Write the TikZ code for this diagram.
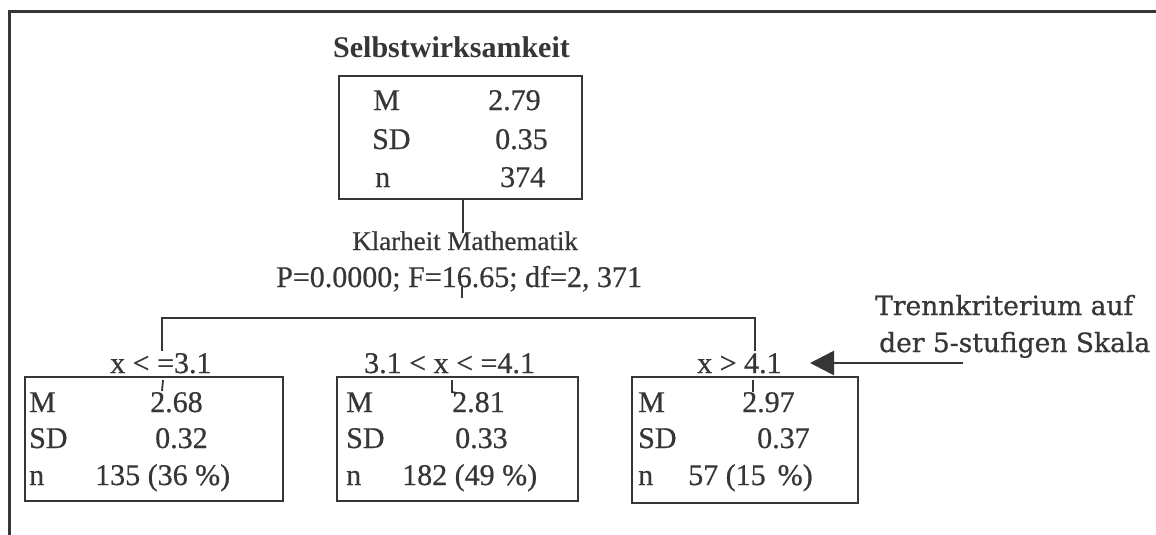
\documentclass[tikz,border=0pt]{standalone}
\usepackage{fontspec}
\setmainfont{Liberation Serif}
\newfontfamily\heavy[FakeBold=0.6]{Liberation Serif}
\newfontfamily\notefont[FakeBold=0.8]{DejaVu Serif}
\usetikzlibrary{arrows.meta}
\definecolor{ink}{HTML}{363636}
\begin{document}
\begin{tikzpicture}[x=1pt,y=-1pt,
  line/.style={draw=ink,line width=2.6pt},
  thin line/.style={draw=ink,line width=1.8pt},
  box/.style={draw=ink,line width=2.6pt},
  txt/.style={text=ink,inner sep=0pt,anchor=base west,font=\heavy\fontsize{30}{32}\selectfont},
  small/.style={text=ink,inner sep=0pt,anchor=base west,font=\heavy\fontsize{27}{29}\selectfont},
  note/.style={text=ink,inner sep=0pt,anchor=base west,font=\notefont\fontsize{26.5}{29}\selectfont}]
\useasboundingbox (0,0) rectangle (1156,535);
% frame
\draw[line,line width=3pt] (9,535) -- (9,11.5) -- (1156,11.5);
% root
\node[txt,font=\bfseries\fontsize{30}{32}\selectfont] (title) at (333,58) {Selbstwirksamkeit};
\draw[box] (339,76) rectangle (582,199);
\node[inner sep=0pt,minimum width=243pt,minimum height=123pt] (root) at (460.5,137.5) {};
\node[txt] (rM) at (373,110) {M};
\node[txt] (rMv) at (488,110) {2.79};
\node[txt] (rSD) at (372,149) {SD};
\node[txt] (rSDv) at (495,149) {0.35};
\node[txt] (rn) at (375,187) {n};
\node[txt] (rnv) at (500,187) {374};
% split labels
\node[small] (var) at (352,250) {Klarheit Mathematik};
\node[txt] (stat) at (276,287) {P=0.0000; F=16.65; df=2, 371};
\coordinate (c1) at (463,233);
\draw[line] (root.south -| c1) -- (c1);
\coordinate (t1) at (462,287);
\coordinate (t2) at (462,298);
\draw[thin line] (t1) -- (t2);
% bracket
\coordinate (bl) at (162,351);
\coordinate (br) at (755,351);
\coordinate (bm) at (458,318);
\draw[line] (bl) |- (bm) -| (br);
% children boxes
\draw[box] (25,377) rectangle (283,501);
\draw[box] (337,377) rectangle (578,501);
\draw[box] (632,377) rectangle (858,503);
\node[inner sep=0pt,minimum width=258pt,minimum height=124pt] (cL) at (154,439) {};
\node[inner sep=0pt,minimum width=241pt,minimum height=124pt] (cM) at (457.5,439) {};
\node[inner sep=0pt,minimum width=226pt,minimum height=126pt] (cR) at (745,440) {};
\node[txt] (lL) at (110,373) {x < =3.1};
\node[txt] (lM) at (364,373) {3.1 < x < =4.1};
\node[txt] (lR) at (697,373) {x > 4.1};
% left
\node[txt] (LM) at (29,412) {M};
\node[txt] (LMv) at (150,412) {2.68};
\node[txt] (LSD) at (29,448) {SD};
\node[txt] (LSDv) at (155,448) {0.32};
\node[txt] (Ln) at (29,485) {n};
\node[txt] (Lnv) at (95,485) {135 (36 \%)};
% middle
\node[txt] (MM) at (346,412) {M};
\node[txt] (MMv) at (452,412) {2.81};
\node[txt] (MSD) at (346,448) {SD};
\node[txt] (MSDv) at (455,448) {0.33};
\node[txt] (Mn) at (346,485) {n};
\node[txt] (Mnv) at (402,485) {182 (49 \%)};
% right
\node[txt] (RM) at (638,412) {M};
\node[txt] (RMv) at (742,412) {2.97};
\node[txt] (RSD) at (638,448) {SD};
\node[txt] (RSDv) at (757,448) {0.37};
\node[txt] (Rn) at (638,485) {n};
\node[txt] (Rnv) at (688,485) {57 (15\hspace{12pt}\%)};
% ticks
\draw[thin line] (163,380) -- (162,391);
\draw[thin line] (452,380) -- (452,392) -- (457,393);
\draw[thin line] (753,380) -- (753,392);
% annotation
\node[note] (n1) at (875,315) {Trennkriterium auf};
\node[note] (n2) at (879,352) {der 5-stufigen Skala};
\coordinate (a0) at (963,363);
\coordinate (a1) at (810,363);
\draw[line,-{Triangle[length=24pt,width=24pt]}] (a0) -- (a1);
\end{tikzpicture}
\end{document}
